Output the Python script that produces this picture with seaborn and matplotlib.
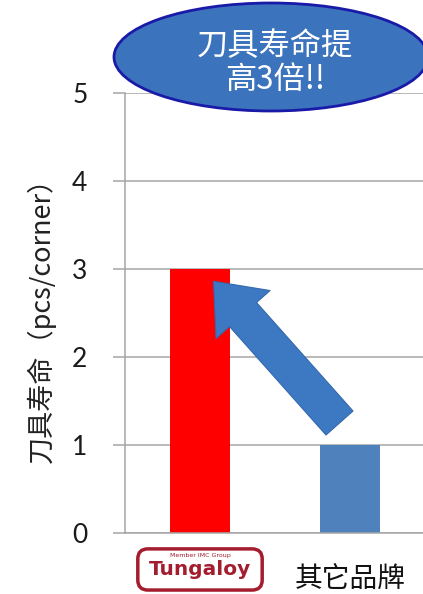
import matplotlib
matplotlib.use("Agg")
import matplotlib.pyplot as plt
import seaborn as sns
import pandas as pd
import numpy as np
from matplotlib.patches import Ellipse
import matplotlib.transforms as mtransforms

# ---- data ----
categories = ["Tungaloy", "其它品牌"]
tool_life = [3, 1]
bar_colors = ["#ff0000", "#4f81bd"]
y_ticks = [0, 1, 2, 3, 4, 5]
y_label = "刀具寿命（pcs/corner）"
callout_text = "刀具寿命提\n高3倍!!"

sns.set_theme(style="white")
plt.rcParams['font.family'] = ['Noto Sans CJK SC', 'DejaVu Sans']

df = pd.DataFrame({"brand": categories, "life": tool_life})

fig = plt.figure(figsize=(4.23, 5.94), dpi=100)
ax = fig.add_axes([125/423, 61/594, 300/423, 440/594])

sns.barplot(data=df, x="brand", y="life", hue="brand", palette=bar_colors,
            width=0.4, legend=False, ax=ax, saturation=1, linewidth=0)

ax.set_xlim(-0.5, 1.5)
ax.set_ylim(0, 5)
ax.set_yticks(y_ticks)
ax.yaxis.grid(True, color="#a6a6a6", linewidth=1.1)
ax.set_axisbelow(True)
for s in ["top", "right"]:
    ax.spines[s].set_visible(False)
for s in ["left", "bottom"]:
    ax.spines[s].set_color("#a6a6a6")
    ax.spines[s].set_linewidth(1.1)
ax.tick_params(axis="y", which="major", length=9, width=1.1, color="#a6a6a6",
               left=True, pad=18, labelsize=19)
ax.tick_params(axis="x", length=0, pad=12)
for t in ax.get_yticklabels():
    t.set_fontfamily(["Lato", "DejaVu Sans"])
    t.set_color("#1a1a1a")

ax.set_xlabel("")
ax.set_ylabel(y_label, fontsize=19.5, color="#222222", labelpad=12)

ax.set_xticks(range(len(categories)))
ax.set_xticklabels(categories)
lbls = ax.get_xticklabels()
lbls[0].set_fontfamily(["DejaVu Sans"])
lbls[0].set_fontweight("bold")
lbls[0].set_fontsize(14.5)
lbls[0].set_color("#a31d2e")
lbls[0].set_va("center")
lbls[0].set_bbox(dict(boxstyle="round,pad=0.55,rounding_size=0.5", fc="white",
                      ec="#a31d2e", lw=2.5))
lbls[0].set_y(-0.045)
lbls[1].set_fontsize(20)
lbls[1].set_color("#111111")
lbls[1].set_y(-0.035)

trans = mtransforms.blended_transform_factory(ax.transData, ax.transAxes)
ax.text(0, -0.052, "Member IMC Group", transform=trans, ha="center", va="center",
        fontsize=4.5, color="#a31d2e", family="DejaVu Sans", zorder=5)

# arrow from the small bar up to the tall bar
ax.annotate("", xy=(0.09, 2.86), xytext=(0.93, 1.25),
            arrowprops=dict(arrowstyle="simple,head_length=1.6,head_width=2.6,tail_width=1.3",
                            mutation_scale=20, fc="#3d79c2", ec="#3468ad", lw=0.8,
                            shrinkA=0, shrinkB=0))

# callout ellipse in figure pixel space
ov = fig.add_axes([0, 0, 1, 1], facecolor="none")
ov.set_xlim(0, 423)
ov.set_ylim(594, 0)
ov.axis("off")
ell = Ellipse((271, 57), 314, 108, fc="#3b73bd", ec="#1a1aa8", lw=2)
ov.add_patch(ell)
ov.text(275, 63, callout_text, ha="center", va="center", color="white",
        fontsize=22.5, linespacing=1.08,
        family=["Noto Sans CJK SC", "DejaVu Sans"])

fig.savefig("out.png", dpi=100)
